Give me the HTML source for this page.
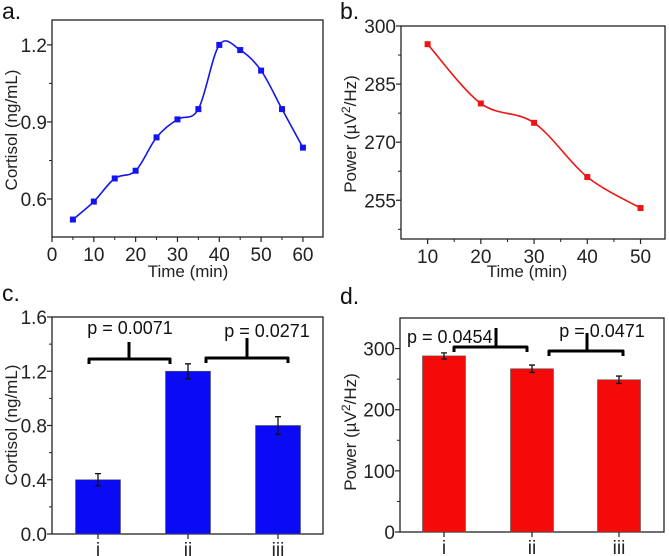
<!DOCTYPE html>
<html><head><meta charset="utf-8"><style>
body{margin:0;background:#fff;}
svg{display:block;font-family:"Liberation Sans",sans-serif;}
</style></head><body>
<svg id="s" width="669" height="556"></svg>
<script>
const aX=[5,10,15,20,25,30,35,40,45,50,55,60];
const aY=[0.52,0.59,0.68,0.71,0.84,0.91,0.95,1.20,1.18,1.10,0.95,0.80];
const aXTicks=[0,10,20,30,40,50,60];
const aYTicks=[0.6,0.9,1.2];
const bX=[10,20,30,40,50];
const bY=[295.3,280,275,261,253];
const bXTicks=[10,20,30,40,50];
const bYTicks=[255,270,285,300];
const cCats=['i','ii','iii'];
const cVals=[0.40,1.20,0.80];
const cErr=[0.045,0.055,0.065];
const cYTicks=[0.0,0.4,0.8,1.2,1.6];
const dCats=['i','ii','iii'];
const dVals=[288,267,249];
const dErr=[5,6,6];
const dYTicks=[0,100,200,300];

const S=document.getElementById('s');const NS='http://www.w3.org/2000/svg';
function el(t,a,txt,p){const e=document.createElementNS(NS,t);for(const k in a)e.setAttribute(k,a[k]);if(txt!==undefined)e.textContent=txt;(p||S).appendChild(e);return e;}
function lin(d0,d1,r0,r1){return v=>r0+(v-d0)/(d1-d0)*(r1-r0);}
function frame(name,L,R,T,B){const g=el('g',{});
 el('rect',{x:L,y:T,width:R-L,height:B-T,fill:'none',stroke:'#222','stroke-width':1.3},undefined,g);return g;}
function yticks(g,ys,L,ticks,fmt,minor){ticks.forEach(t=>{const y=ys(t);el('line',{x1:L-5,x2:L,y1:y,y2:y,stroke:'#222','stroke-width':1.2},undefined,g);
 const tx=el('text',{x:L-5,y:y+7,'text-anchor':'end','font-size':19,fill:'#222'},fmt(t),g);});
 (minor||[]).forEach(t=>{const y=ys(t);el('line',{x1:L-3,x2:L,y1:y,y2:y,stroke:'#222','stroke-width':1},undefined,g);});}
function xticks(g,xs,B,ticks,minor){ticks.forEach(t=>{const x=xs(t);el('line',{x1:x,x2:x,y1:B,y2:B+5,stroke:'#222','stroke-width':1.2},undefined,g);
 const tx=el('text',{x:x,y:B+24,'text-anchor':'middle','font-size':19,fill:'#222'},String(t),g);});
 (minor||[]).forEach(t=>{const x=xs(t);el('line',{x1:x,x2:x,y1:B,y2:B+3,stroke:'#222','stroke-width':1},undefined,g);});}
function ytitle(g,x,y,txt,name){const t=el('text',{transform:`translate(${x},${y}) rotate(-90)`,'text-anchor':'middle','font-size':17,fill:'#222'},undefined,g);t.innerHTML=txt;}
function label(x,y,t,name){const e=el('text',{x:x,y:y,'font-size':23,fill:'#111'},t);}
function spline(pts){let d=`M${pts[0][0]},${pts[0][1]}`;for(let i=0;i<pts.length-1;i++){const p0=pts[Math.max(0,i-1)],p1=pts[i],p2=pts[i+1],p3=pts[Math.min(pts.length-1,i+2)];
 d+=` C${p1[0]+(p2[0]-p0[0])/6},${p1[1]+(p2[1]-p0[1])/6} ${p2[0]-(p3[0]-p1[0])/6},${p2[1]-(p3[1]-p1[1])/6} ${p2[0]},${p2[1]}`;}return d;}
function range(a,b,s){const r=[];for(let v=a;v<=b+1e-9;v+=s)r.push(+v.toFixed(4));return r;}

(function(){const L=52,R=323,T=20,B=237;const xs=lin(0,64.8,L,R),ys=lin(0.452,1.297,B,T);
 const g=frame('panel-a',L,R,T,B);
 xticks(g,xs,B,aXTicks,range(5,60,10));yticks(g,ys,L,aYTicks,v=>v.toFixed(1),[0.75,1.05]);
 const pts=aX.map((x,i)=>[xs(x),ys(aY[i])]);
 const p=el('path',{d:spline(pts),fill:'none',stroke:'#1414f0','stroke-width':1.6},undefined,g);
 pts.forEach(q=>{const m=el('rect',{x:q[0]-3,y:q[1]-3,width:6,height:6,fill:'#1414f0'},undefined,g);});
 const xt=el('text',{x:188,y:277,'text-anchor':'middle','font-size':17,fill:'#222'},'Time (min)',g);
 ytitle(g,17,130,'Cortisol (ng/mL)','y-axis-title');
})();
label(2,19,'a.','panel-label-a');
(function(){const L=401,R=665,T=26,B=239;const xs=lin(5,54.6,L,R),ys=lin(245,300,B,T);
 const g=frame('panel-b',L,R,T,B);
 xticks(g,xs,B,bXTicks,range(15,55,10).filter(v=>v<54));yticks(g,ys,L,bYTicks,v=>String(v),[262.5,277.5,292.5,247.5]);
 const pts=bX.map((x,i)=>[xs(x),ys(bY[i])]);
 const p=el('path',{d:spline(pts),fill:'none',stroke:'#f01414','stroke-width':1.6},undefined,g);
 pts.forEach(q=>{const m=el('rect',{x:q[0]-3,y:q[1]-3,width:6,height:6,fill:'#f01414'},undefined,g);});
 const xt=el('text',{x:527,y:277,'text-anchor':'middle','font-size':17,fill:'#222'},'Time (min)',g);
 ytitle(g,356,134,'Power (\u00b5V<tspan dy="-6" font-size="12">2</tspan><tspan dy="6">/Hz)</tspan>','y-axis-title');
})();
label(340,19,'b.','panel-label-b');
function bars(name,L,R,T,B,ymax,cats,vals,errs,yt,fmt,minor,color,tx,ytx,ttl,bw,centers){
 const ys=lin(0,ymax,B,T);const g=frame(name,L,R,T,B);
 yticks(g,ys,L,yt,fmt,minor);
 cats.forEach((c,i)=>{const cx=centers[i];
  const r=el('rect',{x:cx-bw/2,y:ys(vals[i]),width:bw,height:B-ys(vals[i]),fill:color,stroke:'#555','stroke-width':0.6},undefined,g);
  const y1=ys(vals[i]+errs[i]),y2=ys(vals[i]-errs[i]);
  const e=el('path',{d:`M${cx},${y1}V${y2}M${cx-3},${y1}H${cx+3}M${cx-3},${y2}H${cx+3}`,stroke:'#111','stroke-width':1.3,fill:'none'},undefined,g);
  el('line',{x1:cx,x2:cx,y1:B,y2:B+5,stroke:'#222','stroke-width':1.2},undefined,g);
  const t=el('text',{x:cx,y:B+22,'text-anchor':'middle','font-size':19,fill:'#222'},c,g);});
 ytitle(g,tx,ytx,ttl,'y-axis-title');return g;}
function bracket(g,x1,x2,y,stemX,stemTop,tx,ty,txt,anchor){
 const b=el('path',{d:`M${x1},${y+5}V${y}H${x2}V${y+5}M${stemX},${y}V${stemTop}`,stroke:'#000','stroke-width':3,fill:'none','stroke-linejoin':'round'},undefined,g);
 const t=el('text',{x:tx,y:ty,'text-anchor':anchor,'font-size':18,fill:'#111'},txt,g);}
(function(){const g=bars('panel-c',52,323,317,534,1.6,cCats,cVals,cErr,cYTicks,v=>v.toFixed(1),[0.2,0.6,1.0,1.4],'#0a0af5',17,425,'Cortisol (ng/mL)',45,[98,188,278]);
 bracket(g,89,170,359,129,342,130,334,'p = 0.0071','middle');
 bracket(g,206,288,358,247,338,267,337,'p = 0.0271','middle');})();
label(2,301,'c.','panel-label-c');
(function(){const g=bars('panel-d',400,664,318,532,350,dCats,dVals,dErr,dYTicks,v=>String(v),[50,150,250],'#f50a0a',356,432,'Power (\u00b5V<tspan dy="-6" font-size="12">2</tspan><tspan dy="6">/Hz)</tspan>',43,[444,532,619]);
 bracket(g,454,527,347,496,328,407,343,'p = 0.0454','start');
 bracket(g,549,623,351,587,333,602,337,'p = 0.0471','middle');})();
label(340,304,'d.','panel-label-d');
</script>
</body></html>
